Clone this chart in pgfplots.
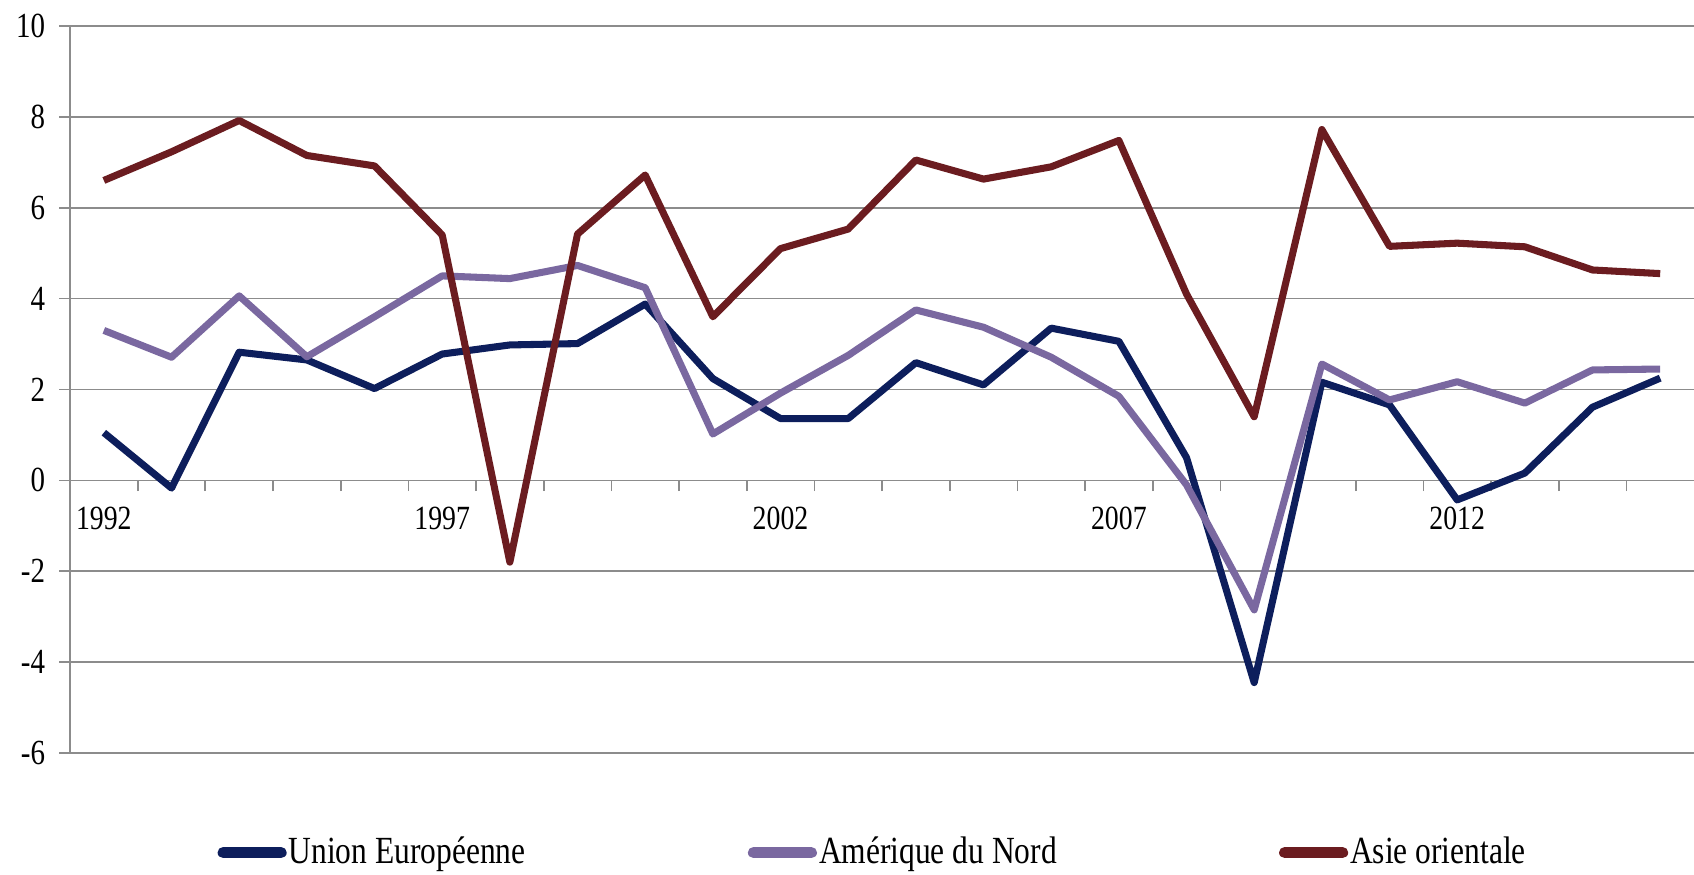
\documentclass[border=0pt]{standalone}
\usepackage{fontspec}
\setmainfont{Liberation Serif}[FakeStretch=0.82]
\usepackage{pgfplots}
\usepackage{pgfplotstable}
\pgfplotsset{compat=1.18}
\definecolor{ue}{HTML}{0D1E5C}
\definecolor{an}{HTML}{7A68A0}
\definecolor{ao}{HTML}{6B1C20}
\definecolor{gridgray}{HTML}{8C8C8C}
\pgfplotstableread{
year ue an ao
1992 1.05 3.30 6.60
1993 -0.17 2.71 7.23
1994 2.82 4.06 7.92
1995 2.65 2.72 7.15
1996 2.02 3.60 6.92
1997 2.78 4.50 5.40
1998 2.98 4.44 -1.80
1999 3.01 4.73 5.42
2000 3.88 4.24 6.72
2001 2.24 1.02 3.60
2002 1.36 1.92 5.10
2003 1.36 2.75 5.53
2004 2.59 3.75 7.05
2005 2.10 3.37 6.63
2006 3.35 2.71 6.90
2007 3.06 1.85 7.48
2008 0.50 -0.10 4.10
2009 -4.45 -2.85 1.40
2010 2.16 2.56 7.72
2011 1.66 1.77 5.15
2012 -0.43 2.17 5.22
2013 0.16 1.70 5.14
2014 1.61 2.43 4.63
2015 2.25 2.45 4.55
}\datatable
\begin{document}
\begin{tikzpicture}
\begin{axis}[
  scale only axis,
  width=575.2pt, height=257.5pt,
  xmin=1991.5, xmax=2015.5, ymin=-6, ymax=10,
  axis x line=middle, axis y line=left,
  axis line style={-, draw=gridgray, line width=0.6pt},
  ytick={-6,-4,-2,0,2,4,6,8,10},
  yticklabels={-6,-4,-2,0,2,4,6,8,10},
  ymajorgrids, grid style={draw=gridgray, line width=0.6pt},
  ytick align=outside, xtick align=outside,
  major tick length=3.8pt,
  tick style={draw=gridgray, line width=0.6pt},
  xtick={1992.5,1993.5,...,2014.5},
  xticklabels={},
  extra x ticks={1992,1997,2002,2007,2012},
  extra x tick labels={1992,1997,2002,2007,2012},
  extra x tick style={major tick length=0pt, grid=none},
  xticklabel style={anchor=center, yshift=-13.6pt, font=\fontsize{12}{14}\selectfont},
  yticklabel style={anchor=east, xshift=-1.5pt, font=\fontsize{12.5}{14}\selectfont},
  clip=false,
  legend columns=3,
  legend style={draw=none, fill=none, at={(axis description cs:0.0905,-0.137)}, anchor=west,
    inner sep=0pt, nodes={inner sep=0.7pt},
    font=\fontsize{13.6}{15}\selectfont,
    /tikz/every even column/.append style={column sep=78pt}},
  legend cell align=left,
  legend image code/.code={\draw[#1, line width=4pt, line cap=round] (0pt,0pt) -- (20.5pt,0pt);},
  every axis plot/.append style={line width=2.5pt, line join=round},
]
\addplot[ue] table[x=year, y=ue] {\datatable};
\addlegendentry{Union Européenne}
\addplot[an] table[x=year, y=an] {\datatable};
\addlegendentry{Amérique du Nord}
\addplot[ao] table[x=year, y=ao] {\datatable};
\addlegendentry{Asie orientale}
\coordinate (bl) at (rel axis cs:0,0);
\coordinate (tr) at (rel axis cs:1,1);
\end{axis}
\pgfresetboundingbox
\path[use as bounding box] ([shift={(-24.8pt,-43.2pt)}]bl) rectangle ([shift={(0pt,9.2pt)}]tr);
\end{tikzpicture}
\end{document}
